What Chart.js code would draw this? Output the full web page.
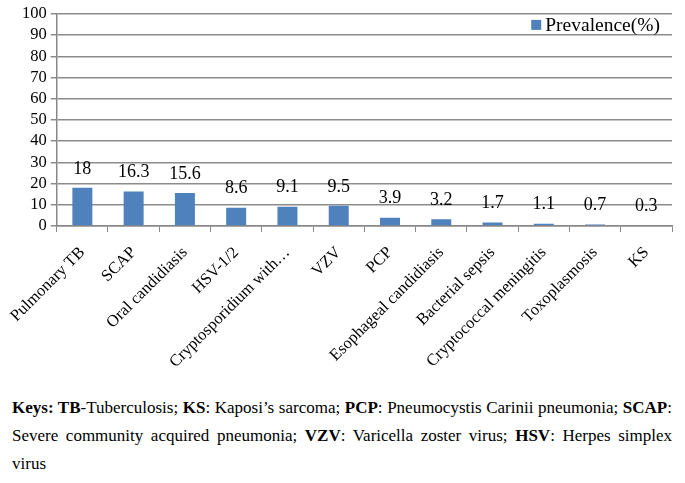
<!DOCTYPE html>
<html><head><meta charset="utf-8">
<script src="https://cdn.jsdelivr.net/npm/chart.js@4/dist/chart.umd.min.js"></script>
<style>
html,body{margin:0;padding:0;background:#fff;}
#wrap{position:relative;width:685px;height:390px;}
#cap{font-family:'Liberation Serif',serif;font-size:17px;line-height:28px;text-align:justify;margin:0 13px 0 12px;color:#000;padding-top:4px;}
</style></head><body>
<div id="wrap"><canvas id="c" width="685" height="390"></canvas></div>
<div id="cap"><b>Keys: TB</b>-Tuberculosis; <b>KS</b>: Kaposi’s sarcoma; <b>PCP</b>: Pneumocystis Carinii pneumonia; <b>SCAP</b>: Severe community acquired pneumonia; <b>VZV</b>: Varicella zoster virus; <b>HSV</b>: Herpes simplex virus</div>
<script>
const categories = ["Pulmonary TB","SCAP","Oral candidiasis","HSV-1/2","Cryptosporidium with…","VZV","PCP","Esophageal candidiasis","Bacterial sepsis","Cryptococcal meningitis","Toxoplasmosis","KS"];
const prevalence = [18,16.3,15.6,8.6,9.1,9.5,3.9,3.2,1.7,1.1,0.7,0.3];
const seriesName = "Prevalence(%)";

const serif = "'Liberation Serif', serif";

const valueLabels = {
  id:'valueLabels',
  afterDatasetsDraw(chart){
    const ctx = chart.ctx;
    const meta = chart.getDatasetMeta(0);
    ctx.save();
    ctx.font = '18px ' + serif;
    ctx.fillStyle = '#000';
    ctx.textAlign = 'center';
    ctx.textBaseline = 'bottom';
    meta.data.forEach((el,i)=>{
      ctx.fillText(String(prevalence[i]), el.x, el.y - 10);
    });
    // legend
    const ds = chart.data.datasets[0];
    const ca = chart.chartArea;
    ctx.font = '19.5px ' + serif;
    ctx.textAlign = 'left';
    ctx.textBaseline = 'middle';
    const tw = ctx.measureText(ds.label).width;
    const tx = ca.right - 12 - tw;
    const ty = ca.top + 11;
    ctx.fillStyle = ds.backgroundColor;
    ctx.fillRect(tx - 14, ty - 5, 10, 10);
    ctx.fillStyle = '#000';
    ctx.fillText(ds.label, tx, ty + 1);
    ctx.restore();
  }
};

new Chart(document.getElementById('c'), {
  type:'bar',
  data:{labels:categories, datasets:[{label:seriesName, data:prevalence, backgroundColor:'#4F81BD', borderWidth:0, barPercentage:0.39, categoryPercentage:1}]},
  options:{
    responsive:false, animation:false,
    layout:{padding:{top:9,right:13,left:0,bottom:0}},
    plugins:{tooltip:{enabled:false}, legend:{display:false}},
    scales:{
      x:{
        grid:{display:true, drawOnChartArea:false, offset:true, color:'#888', tickLength:6},
        border:{color:'#888', width:1.5},
        ticks:{autoSkip:false, maxRotation:45, minRotation:45, font:{family:serif,size:16.5}, color:'#000', padding:11},
        afterFit(a){a.height = 390 - 226;}
      },
      y:{
        min:0,max:100,
        ticks:{stepSize:10, autoSkip:false, font:{family:serif,size:16.5}, color:'#000', padding:4},
        grid:{color:'#8c8c8c', lineWidth:1.5, tickLength:6},
        border:{color:'#888', width:1.5},
        afterFit(a){a.width = 56;}
      }
    }
  },
  plugins:[valueLabels]
});
</script>
</body></html>
